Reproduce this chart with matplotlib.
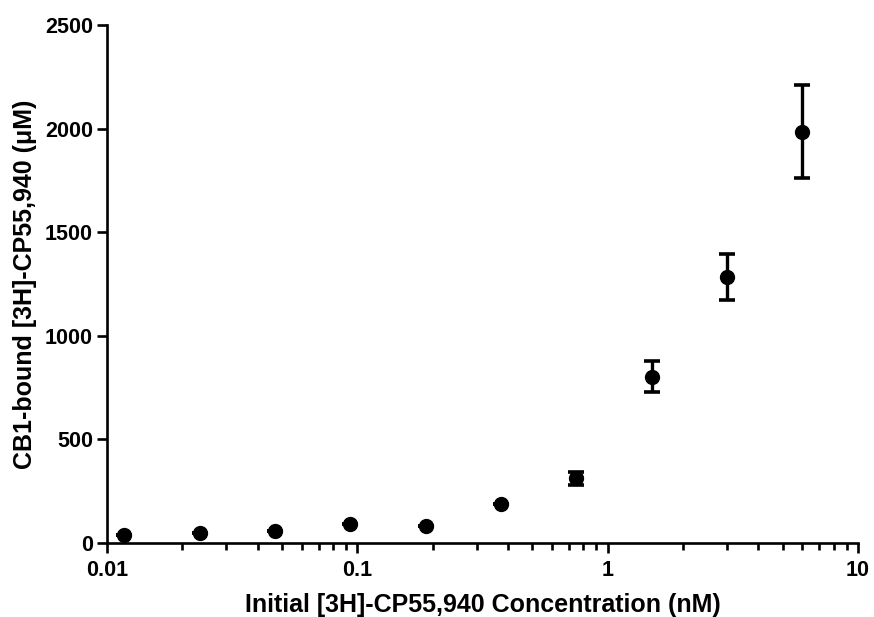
import matplotlib
matplotlib.use("Agg")
import matplotlib.pyplot as plt
from matplotlib.ticker import FixedLocator, NullFormatter, LogLocator
import numpy as np

plt.rcParams['font.family'] = ['Liberation Sans', 'DejaVu Sans']
plt.rcParams['font.weight'] = 'bold'

# two-fold dilution series (nM) and bound ligand with SEM
conc = [0.01171875, 0.0234375, 0.046875, 0.09375, 0.1875, 0.375, 0.75, 1.5, 3.0, 6.0]
bound = [39, 47, 58, 90, 82, 188, 312, 803, 1285, 1985]
sem = [0, 0, 0, 0, 0, 0, 33, 75, 111, 225]

fig = plt.figure(figsize=(8.74, 6.17), dpi=100)
ax = fig.add_axes([0.1224, 0.1199, 0.8593, 0.8396])

ax.errorbar(conc, bound, yerr=sem, fmt='o', color='black', ms=10,
            elinewidth=2.4, capsize=6, capthick=2.6, clip_on=False, zorder=3)

ax.set_xscale('log')
ax.set_xlim(0.01, 10)
ax.set_ylim(0, 2500)
ax.set_yticks([0, 500, 1000, 1500, 2000, 2500])
ax.xaxis.set_major_locator(FixedLocator([0.01, 0.1, 1, 10]))
ax.set_xticklabels(['0.01', '0.1', '1', '10'])
ax.xaxis.set_minor_locator(LogLocator(base=10, subs=np.arange(2, 10)))
ax.xaxis.set_minor_formatter(NullFormatter())

for s in ['top', 'right']:
    ax.spines[s].set_visible(False)
for s in ['left', 'bottom']:
    ax.spines[s].set_linewidth(1.9)

ax.tick_params(which='major', length=7, width=1.9, labelsize=15.5, pad=3)
ax.tick_params(axis='x', which='major', pad=5)
ax.tick_params(which='minor', length=5, width=1.9)

ax.set_xlabel('Initial [3H]-CP55,940 Concentration (nM)', fontsize=18, fontweight='bold', labelpad=9)
ax.set_ylabel('CB1-bound [3H]-CP55,940 (\u03bcM)', fontsize=18, fontweight='bold', labelpad=6)

fig.savefig('out.png', dpi=100)
